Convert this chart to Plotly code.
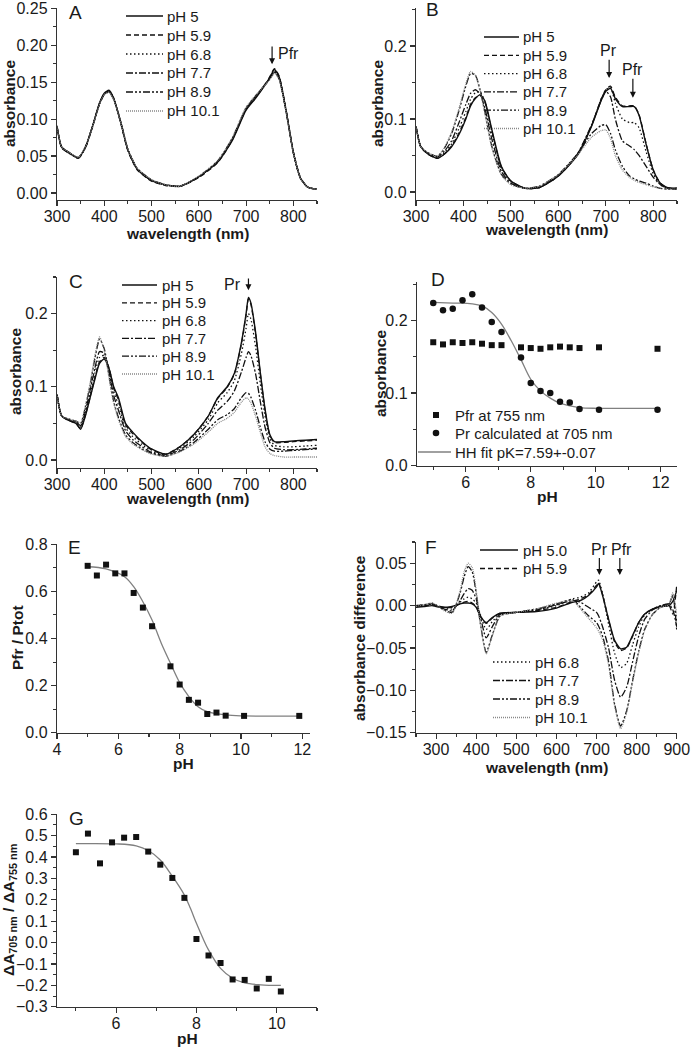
import plotly.graph_objects as go

W, H = 693, 1049

# ---------------- data ----------------
ph_labels = ["pH 5", "pH 5.9", "pH 6.8", "pH 7.7", "pH 8.9", "pH 10.1"]
ph_labels_F = ["pH 5.0", "pH 5.9", "pH 6.8", "pH 7.7", "pH 8.9", "pH 10.1"]

wl_A = [300, 310, 325, 345, 360, 375, 390, 400, 410, 420, 435, 450, 470, 500, 530, 560, 600, 640, 670, 700, 720, 740, 750, 760, 770, 785, 800, 815, 830, 850]
A_pH5 = [0.090, 0.062, 0.055, 0.047, 0.062, 0.090, 0.122, 0.135, 0.139, 0.128, 0.095, 0.058, 0.032, 0.017, 0.011, 0.009, 0.022, 0.042, 0.070, 0.112, 0.128, 0.146, 0.156, 0.167, 0.157, 0.110, 0.055, 0.020, 0.008, 0.005]
A_pH59 = [0.091, 0.061, 0.054, 0.048, 0.061, 0.089, 0.121, 0.134, 0.138, 0.127, 0.094, 0.057, 0.031, 0.016, 0.010, 0.009, 0.021, 0.041, 0.071, 0.113, 0.129, 0.147, 0.157, 0.168, 0.158, 0.111, 0.056, 0.021, 0.008, 0.005]
A_pH68 = [0.090, 0.062, 0.055, 0.048, 0.062, 0.090, 0.121, 0.134, 0.138, 0.128, 0.096, 0.059, 0.033, 0.017, 0.011, 0.009, 0.022, 0.043, 0.072, 0.114, 0.130, 0.146, 0.155, 0.165, 0.156, 0.110, 0.055, 0.020, 0.008, 0.005]
A_pH77 = [0.089, 0.061, 0.054, 0.047, 0.061, 0.089, 0.120, 0.133, 0.137, 0.127, 0.095, 0.058, 0.032, 0.017, 0.011, 0.009, 0.022, 0.043, 0.072, 0.114, 0.131, 0.147, 0.155, 0.164, 0.155, 0.109, 0.054, 0.020, 0.008, 0.005]
A_pH89 = [0.090, 0.062, 0.055, 0.048, 0.062, 0.090, 0.121, 0.134, 0.137, 0.127, 0.096, 0.059, 0.033, 0.018, 0.011, 0.009, 0.022, 0.043, 0.073, 0.115, 0.131, 0.146, 0.154, 0.163, 0.154, 0.109, 0.054, 0.020, 0.008, 0.005]
A_pH101 = [0.090, 0.062, 0.055, 0.048, 0.062, 0.089, 0.120, 0.133, 0.136, 0.126, 0.095, 0.059, 0.033, 0.018, 0.011, 0.009, 0.023, 0.044, 0.074, 0.116, 0.132, 0.146, 0.153, 0.162, 0.153, 0.108, 0.054, 0.020, 0.008, 0.005]

wl_B = [300, 310, 325, 345, 360, 375, 390, 405, 415, 425, 435, 445, 460, 480, 500, 530, 560, 600, 640, 670, 690, 700, 710, 720, 735, 750, 760, 770, 785, 800, 815, 830, 850]
B_pH5 = [0.090, 0.062, 0.052, 0.046, 0.052, 0.062, 0.078, 0.100, 0.118, 0.128, 0.133, 0.125, 0.085, 0.035, 0.015, 0.005, 0.006, 0.022, 0.050, 0.090, 0.125, 0.138, 0.142, 0.128, 0.117, 0.117, 0.117, 0.105, 0.065, 0.030, 0.012, 0.006, 0.005]
B_pH59 = [0.090, 0.062, 0.052, 0.046, 0.052, 0.063, 0.080, 0.102, 0.120, 0.129, 0.132, 0.123, 0.083, 0.034, 0.015, 0.005, 0.006, 0.022, 0.051, 0.091, 0.127, 0.140, 0.145, 0.130, 0.118, 0.118, 0.118, 0.106, 0.066, 0.030, 0.012, 0.006, 0.005]
B_pH68 = [0.090, 0.062, 0.053, 0.047, 0.054, 0.066, 0.086, 0.110, 0.127, 0.136, 0.137, 0.124, 0.080, 0.032, 0.014, 0.005, 0.006, 0.022, 0.051, 0.091, 0.127, 0.140, 0.143, 0.122, 0.100, 0.095, 0.095, 0.088, 0.055, 0.025, 0.010, 0.005, 0.005]
B_pH77 = [0.090, 0.062, 0.053, 0.048, 0.056, 0.070, 0.094, 0.120, 0.135, 0.140, 0.134, 0.115, 0.072, 0.028, 0.012, 0.005, 0.007, 0.023, 0.052, 0.092, 0.125, 0.138, 0.130, 0.100, 0.070, 0.063, 0.058, 0.050, 0.035, 0.020, 0.010, 0.005, 0.004]
B_pH89 = [0.090, 0.062, 0.054, 0.049, 0.060, 0.080, 0.110, 0.145, 0.162, 0.160, 0.140, 0.110, 0.062, 0.024, 0.011, 0.005, 0.008, 0.024, 0.052, 0.080, 0.091, 0.092, 0.080, 0.058, 0.035, 0.022, 0.018, 0.015, 0.012, 0.008, 0.005, 0.004, 0.004]
B_pH101 = [0.090, 0.062, 0.054, 0.049, 0.061, 0.082, 0.113, 0.148, 0.165, 0.160, 0.138, 0.108, 0.060, 0.023, 0.010, 0.005, 0.008, 0.024, 0.050, 0.075, 0.084, 0.085, 0.073, 0.050, 0.030, 0.020, 0.016, 0.013, 0.010, 0.007, 0.005, 0.004, 0.004]

wl_C = [300, 310, 325, 340, 350, 360, 370, 380, 390, 400, 410, 420, 430, 445, 460, 480, 500, 530, 560, 590, 620, 640, 660, 675, 690, 700, 705, 710, 720, 730, 740, 750, 760, 780, 800, 825, 850]
C_pH5 = [0.090, 0.060, 0.054, 0.050, 0.042, 0.060, 0.085, 0.110, 0.132, 0.138, 0.125, 0.100, 0.085, 0.050, 0.038, 0.025, 0.015, 0.008, 0.018, 0.035, 0.060, 0.085, 0.100, 0.118, 0.160, 0.200, 0.222, 0.215, 0.175, 0.120, 0.070, 0.035, 0.025, 0.025, 0.026, 0.027, 0.028]
C_pH59 = [0.090, 0.060, 0.054, 0.050, 0.043, 0.061, 0.086, 0.112, 0.134, 0.140, 0.126, 0.098, 0.082, 0.048, 0.036, 0.024, 0.014, 0.008, 0.018, 0.035, 0.060, 0.084, 0.099, 0.117, 0.158, 0.198, 0.220, 0.213, 0.172, 0.118, 0.068, 0.034, 0.024, 0.024, 0.025, 0.026, 0.027]
C_pH68 = [0.090, 0.060, 0.055, 0.051, 0.045, 0.064, 0.090, 0.118, 0.140, 0.143, 0.124, 0.094, 0.075, 0.044, 0.032, 0.021, 0.012, 0.007, 0.016, 0.032, 0.055, 0.078, 0.092, 0.108, 0.145, 0.180, 0.200, 0.193, 0.155, 0.105, 0.060, 0.030, 0.020, 0.018, 0.018, 0.019, 0.020]
C_pH77 = [0.090, 0.060, 0.055, 0.052, 0.047, 0.067, 0.095, 0.125, 0.148, 0.146, 0.120, 0.088, 0.068, 0.040, 0.028, 0.018, 0.010, 0.006, 0.014, 0.028, 0.050, 0.068, 0.080, 0.094, 0.120, 0.140, 0.148, 0.143, 0.118, 0.080, 0.045, 0.024, 0.016, 0.014, 0.014, 0.015, 0.016]
C_pH89 = [0.090, 0.060, 0.056, 0.053, 0.050, 0.072, 0.102, 0.138, 0.165, 0.152, 0.115, 0.080, 0.058, 0.034, 0.024, 0.015, 0.009, 0.005, 0.012, 0.024, 0.042, 0.055, 0.062, 0.070, 0.085, 0.092, 0.091, 0.086, 0.068, 0.045, 0.025, 0.015, 0.012, 0.012, 0.013, 0.014, 0.015]
C_pH101 = [0.090, 0.060, 0.056, 0.053, 0.051, 0.074, 0.105, 0.142, 0.168, 0.150, 0.112, 0.077, 0.055, 0.032, 0.022, 0.014, 0.008, 0.005, 0.011, 0.022, 0.038, 0.050, 0.057, 0.065, 0.079, 0.085, 0.083, 0.078, 0.060, 0.038, 0.018, 0.009, 0.006, 0.004, 0.004, 0.004, 0.004]

pH_DE = [5.0, 5.3, 5.6, 5.9, 6.2, 6.5, 6.8, 7.1, 7.7, 8.0, 8.3, 8.6, 8.9, 9.2, 9.5, 10.1, 11.9]
D_pfr755 = [0.170, 0.167, 0.170, 0.169, 0.170, 0.168, 0.166, 0.166, 0.163, 0.162, 0.161, 0.163, 0.164, 0.163, 0.162, 0.163, 0.161]
D_pr705 = [0.224, 0.214, 0.216, 0.228, 0.236, 0.218, 0.198, 0.184, 0.149, 0.114, 0.103, 0.100, 0.088, 0.087, 0.078, 0.077, 0.077]
pH_fit_DE = [5.0, 5.6, 6.2, 6.5, 6.8, 7.1, 7.4, 7.7, 8.0, 8.3, 8.6, 8.9, 9.5, 10.1, 11.9]
D_fit = [0.225, 0.224, 0.223, 0.220, 0.211, 0.195, 0.172, 0.146, 0.119, 0.103, 0.093, 0.086, 0.080, 0.079, 0.079]
D_legend = ["Pfr at 755 nm", "Pr calculated at 705 nm", "HH fit pK=7.59+-0.07"]

E_ratio = [0.708, 0.667, 0.713, 0.676, 0.676, 0.593, 0.531, 0.452, 0.282, 0.205, 0.140, 0.128, 0.080, 0.086, 0.073, 0.072, 0.072]
E_fit = [0.704, 0.695, 0.662, 0.620, 0.556, 0.478, 0.380, 0.295, 0.213, 0.154, 0.111, 0.090, 0.076, 0.072, 0.071]

wl_F = [250, 270, 290, 300, 320, 340, 360, 370, 380, 390, 400, 410, 425, 440, 460, 500, 550, 600, 640, 660, 680, 700, 705, 715, 730, 745, 760, 775, 790, 805, 820, 840, 860, 880, 890, 900]
F_pH50 = [-0.002, -0.001, 0.000, -0.001, -0.002, -0.001, 0.002, 0.003, 0.003, 0.002, -0.002, -0.012, -0.020, -0.014, -0.009, -0.008, -0.007, -0.003, 0.004, 0.006, 0.012, 0.022, 0.026, 0.012, -0.016, -0.041, -0.051, -0.049, -0.035, -0.020, -0.010, -0.004, -0.001, 0.000, 0.005, 0.018]
F_pH59 = [-0.001, 0.000, 0.001, 0.000, -0.002, -0.002, 0.002, 0.004, 0.005, 0.003, -0.001, -0.012, -0.021, -0.015, -0.009, -0.008, -0.006, -0.002, 0.005, 0.008, 0.013, 0.024, 0.027, 0.013, -0.017, -0.043, -0.053, -0.050, -0.036, -0.020, -0.010, -0.004, -0.001, 0.001, -0.010, 0.025]
F_pH68 = [0.000, 0.001, 0.003, 0.001, -0.003, -0.004, 0.004, 0.008, 0.010, 0.008, 0.003, -0.010, -0.028, -0.019, -0.010, -0.008, -0.005, 0.000, 0.008, 0.010, 0.015, 0.028, 0.030, 0.014, -0.022, -0.056, -0.073, -0.068, -0.046, -0.025, -0.011, -0.004, 0.000, 0.002, 0.010, -0.020]
F_pH77 = [0.000, 0.001, 0.002, 0.000, -0.004, -0.006, 0.006, 0.014, 0.020, 0.018, 0.008, -0.012, -0.038, -0.025, -0.010, -0.008, -0.005, 0.001, 0.006, 0.004, -0.002, -0.008, -0.012, -0.025, -0.050, -0.088, -0.108, -0.096, -0.066, -0.036, -0.016, -0.005, 0.000, 0.002, -0.005, -0.025]
F_pH89 = [-0.001, 0.000, 0.002, 0.000, -0.005, -0.008, 0.015, 0.034, 0.046, 0.040, 0.015, -0.020, -0.055, -0.035, -0.012, -0.008, -0.004, 0.002, 0.007, -0.002, -0.012, -0.020, -0.024, -0.036, -0.066, -0.116, -0.142, -0.124, -0.088, -0.054, -0.028, -0.010, -0.002, 0.001, 0.012, -0.030]
F_pH101 = [-0.001, 0.001, 0.003, 0.001, -0.006, -0.009, 0.018, 0.040, 0.050, 0.045, 0.018, -0.020, -0.057, -0.036, -0.012, -0.008, -0.004, 0.003, 0.006, -0.004, -0.015, -0.026, -0.030, -0.040, -0.070, -0.118, -0.145, -0.126, -0.090, -0.056, -0.029, -0.010, -0.002, 0.001, 0.015, -0.010]

pH_G = [5.0, 5.3, 5.6, 5.9, 6.2, 6.5, 6.8, 7.1, 7.4, 7.7, 8.0, 8.3, 8.6, 8.9, 9.2, 9.5, 9.8, 10.1]
G_ratio = [0.422, 0.509, 0.370, 0.468, 0.490, 0.493, 0.425, 0.364, 0.302, 0.209, 0.017, -0.060, -0.095, -0.172, -0.174, -0.214, -0.169, -0.228]
pH_fit_G = [5.0, 6.0, 6.5, 6.8, 7.1, 7.4, 7.7, 7.85, 8.0, 8.15, 8.3, 8.6, 8.9, 9.2, 9.6, 10.1]
G_fit = [0.462, 0.461, 0.452, 0.430, 0.386, 0.310, 0.222, 0.160, 0.090, 0.025, -0.034, -0.120, -0.166, -0.188, -0.197, -0.200]

# ---------------- styles ----------------
INK = "#111111"
FIT = "#808080"
TXT = "#1a1a1a"
FONT = "Liberation Sans, Arial, sans-serif"
line_styles = [
    dict(color=INK, dash="solid", width=1.4),
    dict(color=INK, dash="5px,3px", width=1.3),
    dict(color=INK, dash="1.5px,2.5px", width=1.3),
    dict(color=INK, dash="7px,2px,2px,2px", width=1.3),
    dict(color=INK, dash="7px,2px,2px,2px,2px,2px", width=1.3),
    dict(color="#888888", dash="1px,1px", width=1.3),
]


def px_x(p):
    return p / W


def px_y(p):
    return 1 - p / H


fig = go.Figure()

panels = {
    "A": dict(xd=(57, 317), yd=(8, 200), xr=[300, 850], yr=[-0.0095, 0.2502], xt=100, xm=50, yt=0.05, ym=0.025, yf=".2f"),
    "B": dict(xd=(416, 677), yd=(8, 200), xr=[300, 850], yr=[-0.011, 0.252], xt=100, xm=50, yt=0.1, ym=0.05, yf=".1f"),
    "C": dict(xd=(57, 317), yd=(277, 468), xr=[300, 850], yr=[-0.011, 0.25], xt=100, xm=50, yt=0.1, ym=0.05, yf=".1f"),
    "D": dict(xd=(417, 677), yd=(282, 466), xr=[4.5, 12.5], yr=[-0.0005, 0.253], xt=2, xm=1, yt=0.1, ym=0.05, yf=".1f"),
    "E": dict(xd=(57, 310), yd=(544, 733), xr=[4, 12.25], yr=[-0.0005, 0.8005], xt=2, xm=1, yt=0.2, ym=0.1, yf=".1f"),
    "F": dict(xd=(416, 677), yd=(542, 733), xr=[250, 900.5], yr=[-0.1502, 0.075], xt=100, xm=50, yt=0.05, ym=0.025, yf=".2f"),
    "G": dict(xd=(57, 317), yd=(814, 1007), xr=[4.53, 11.0], yr=[-0.3005, 0.6005], xt=2, xm=1, yt=0.1, ym=0.05, yf=".1f"),
}
order = ["A", "B", "C", "D", "E", "F", "G"]
axis_ids = {}
layout_axes = {}
for i, name in enumerate(order):
    p = panels[name]
    sfx = "" if i == 0 else str(i + 1)
    axis_ids[name] = ("x" + sfx, "y" + sfx)
    common = dict(showline=True, linecolor="#333333", linewidth=1.2, mirror=False,
                  ticks="outside", ticklen=5, tickwidth=1.1, tickcolor="#333333", automargin=False,
                  ticklabeloverflow="allow",
                  showgrid=False, zeroline=False, tickfont=dict(size=16, color=TXT, family=FONT))
    layout_axes["xaxis" + sfx] = dict(
        common, domain=[px_x(p["xd"][0]), px_x(p["xd"][1])], range=p["xr"], anchor="y" + sfx,
        dtick=p["xt"], tick0=0, ticklabelstandoff=-3,
        minor=dict(ticks="outside", ticklen=3, dtick=p["xm"], tick0=0, tickcolor="#333333", showgrid=False))
    layout_axes["yaxis" + sfx] = dict(
        common, domain=[px_y(p["yd"][1]), px_y(p["yd"][0])], range=p["yr"], anchor="x" + sfx,
        dtick=p["yt"], tick0=0, tickformat=p["yf"],
        minor=dict(ticks="outside", ticklen=3, dtick=p["ym"], tick0=0, tickcolor="#333333", showgrid=False))


def add_spectra(name, wl, series, labels):
    xa, ya = axis_ids[name]
    for k, (vals, lab) in enumerate(zip(series, labels)):
        fig.add_trace(go.Scatter(
            x=wl, y=vals, mode="lines", name=lab, line=dict(line_styles[k], shape="spline", smoothing=0.6),
            xaxis=xa, yaxis=ya, showlegend=False, hoverinfo="skip"))


add_spectra("A", wl_A, [A_pH5, A_pH59, A_pH68, A_pH77, A_pH89, A_pH101], ph_labels)
add_spectra("B", wl_B, [B_pH5, B_pH59, B_pH68, B_pH77, B_pH89, B_pH101], ph_labels)
add_spectra("C", wl_C, [C_pH5, C_pH59, C_pH68, C_pH77, C_pH89, C_pH101], ph_labels)
add_spectra("F", wl_F, [F_pH50, F_pH59, F_pH68, F_pH77, F_pH89, F_pH101], ph_labels_F)

# Panel D
xa, ya = axis_ids["D"]
fig.add_trace(go.Scatter(x=pH_fit_DE, y=D_fit, mode="lines", name=D_legend[2],
                         line=dict(color=FIT, width=1.3, shape="spline"), xaxis=xa, yaxis=ya, showlegend=False))
fig.add_trace(go.Scatter(x=pH_DE, y=D_pfr755, mode="markers", name=D_legend[0],
                         marker=dict(symbol="square", size=6, color=INK), xaxis=xa, yaxis=ya, showlegend=False))
fig.add_trace(go.Scatter(x=pH_DE, y=D_pr705, mode="markers", name=D_legend[1],
                         marker=dict(symbol="circle", size=6.5, color=INK), xaxis=xa, yaxis=ya, showlegend=False))

# Panel E
xa, ya = axis_ids["E"]
fig.add_trace(go.Scatter(x=pH_fit_DE, y=E_fit, mode="lines", line=dict(color=FIT, width=1.3, shape="spline"),
                         xaxis=xa, yaxis=ya, showlegend=False))
fig.add_trace(go.Scatter(x=pH_DE, y=E_ratio, mode="markers", marker=dict(symbol="square", size=6, color=INK),
                         xaxis=xa, yaxis=ya, showlegend=False))

# Panel G
xa, ya = axis_ids["G"]
fig.add_trace(go.Scatter(x=pH_fit_G, y=G_fit, mode="lines", line=dict(color=FIT, width=1.3, shape="spline"),
                         xaxis=xa, yaxis=ya, showlegend=False))
fig.add_trace(go.Scatter(x=pH_G, y=G_ratio, mode="markers", marker=dict(symbol="square", size=6, color=INK),
                         xaxis=xa, yaxis=ya, showlegend=False))

annotations = []
shapes = []


def text(xpx, ypx, s, size=15, bold=False, angle=0, anchor="center"):
    annotations.append(dict(xref="paper", yref="paper", x=px_x(xpx), y=px_y(ypx), text=("<b>%s</b>" % s) if bold else s,
                            showarrow=False, textangle=angle, xanchor=anchor, yanchor="middle",
                            font=dict(size=size, color=TXT, family=FONT)))


def line_legend(x0, x1, xtext, y0, dy, labels, styles):
    for k, (lab, st) in enumerate(zip(labels, styles)):
        y = y0 + k * dy
        shapes.append(dict(type="line", xref="paper", yref="paper", x0=px_x(x0), x1=px_x(x1),
                           y0=px_y(y), y1=px_y(y), line=dict(color=st["color"], dash=st["dash"], width=st["width"])))
        text(xtext, y, lab, 15, anchor="left")


# legends
line_legend(126, 163, 165, 16, 19, ph_labels, line_styles)
line_legend(484, 519, 521, 37, 18.3, ph_labels, line_styles)
line_legend(122, 157, 160, 285, 17.8, ph_labels, line_styles)
line_legend(480, 518, 521, 550, 18.5, ph_labels_F[:2], line_styles[:2])
line_legend(493, 530, 533, 662, 18.5, ph_labels_F[2:], line_styles[2:])

# D legend (markers + fit line)
shapes.append(dict(type="rect", xref="paper", yref="paper", x0=px_x(433), x1=px_x(439),
                   y0=px_y(418), y1=px_y(412), fillcolor=INK, line=dict(width=0)))
shapes.append(dict(type="circle", xref="paper", yref="paper", x0=px_x(432.7), x1=px_x(439.3),
                   y0=px_y(436.3), y1=px_y(429.7), fillcolor=INK, line=dict(width=0)))
shapes.append(dict(type="line", xref="paper", yref="paper", x0=px_x(418), x1=px_x(451),
                   y0=px_y(452), y1=px_y(452), line=dict(color=FIT, width=1.3)))
text(453, 415, D_legend[0], 15, anchor="left")
text(453, 433, D_legend[1], 15, anchor="left")
text(453, 452, D_legend[2], 15, anchor="left")

# panel letters
for lab, (xx, yy) in {"A": (67, 13), "B": (424, 10), "C": (67, 281), "D": (429, 280), "E": (66, 547), "F": (423, 547), "G": (67, 818)}.items():
    text(xx, yy, lab, size=19, anchor="left")

# axis titles
text(10, 104, "absorbance", 15.5, True, -90)
text(378, 104, "absorbance", 15.5, True, -90)
text(15, 372, "absorbance", 15.5, True, -90)
text(380, 374, "absorbance", 15.5, True, -90)
text(17, 638, "Pfr / Ptot", 15.5, True, -90)
text(359, 638, "absorbance difference", 15.5, True, -90)
text(9, 910, "ΔA<sub>705 nm</sub> / ΔA<sub>755 nm</sub>", 15.5, True, -90)
text(187, 234, "wavelength (nm)", 15.5, True)
text(546, 229, "wavelength (nm)", 15.5, True)
text(187, 498, "wavelength (nm)", 15.5, True)
text(547, 496, "pH", 15.5, True)
text(183, 763, "pH", 15.5, True)
text(546, 767, "wavelength (nm)", 15.5, True)
text(187, 1038, "pH", 15.5, True)


def arrow(name, x, y_tip, y_tail):
    xa, ya = axis_ids[name]
    annotations.append(dict(xref=xa, yref=ya, x=x, y=y_tip, ax=x, ay=y_tail, axref=xa, ayref=ya,
                            text="", showarrow=True, arrowhead=2, arrowsize=1.0, arrowwidth=1.2,
                            arrowcolor=INK, standoff=0, startstandoff=0))


def dtext(name, x, y, s, anchor="center"):
    xa, ya = axis_ids[name]
    annotations.append(dict(xref=xa, yref=ya, x=x, y=y, text=s, showarrow=False, xanchor=anchor,
                            font=dict(size=16, color=TXT, family=FONT)))


arrow("A", 755, 0.174, 0.200)
dtext("A", 764, 0.188, "Pfr", "left")
arrow("B", 707, 0.156, 0.183)
dtext("B", 705, 0.194, "Pr")
arrow("B", 757, 0.129, 0.157)
dtext("B", 757, 0.168, "Pfr")
arrow("C", 705, 0.232, 0.250)
dtext("C", 694, 0.240, "Pr", "right")
arrow("F", 707, 0.036, 0.058)
dtext("F", 707, 0.066, "Pr")
arrow("F", 758, 0.036, 0.058)
dtext("F", 762, 0.066, "Pfr")

fig.update_layout(
    template="none",
    width=W, height=H, margin=dict(l=0, r=0, t=0, b=0, pad=0, autoexpand=False),
    paper_bgcolor="white", plot_bgcolor="white", showlegend=False,
    font=dict(family=FONT, size=15, color=TXT),
    annotations=annotations, shapes=shapes, hovermode=False,
    **layout_axes,
)

fig.write_html("out.html", config={"displayModeBar": False, "staticPlot": True},
               post_script="document.body.style.margin='0';document.body.style.padding='0';")
